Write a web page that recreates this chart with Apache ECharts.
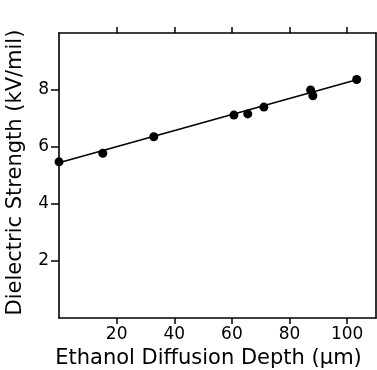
<!DOCTYPE html>
<html><head><meta charset="utf-8">
<script src="https://cdn.jsdelivr.net/npm/echarts@6/dist/echarts.min.js"></script>
<style>html,body{margin:0;padding:0;background:#fff}#c{width:377px;height:370px}</style>
</head><body><div id="c"></div>
<script>
const depth = [0, 15.2, 32.9, 60.7, 65.5, 71.1, 87.3, 88.1, 103.3];
const strength = [5.48, 5.78, 6.36, 7.12, 7.16, 7.40, 8.0, 7.8, 8.37];
const fitX = [0, 103.3];
const fitY = [5.45, 8.36];
const xTicks = [20, 40, 60, 80, 100];
const yTicks = [2, 4, 6, 8];

const font = 'DejaVu Sans';
const chart = echarts.init(document.getElementById('c'), null, {renderer: 'canvas'});
const axisLine = {show: true, onZero: false, lineStyle: {color: '#000', width: 1.6}};
chart.setOption({
  animation: false,
  backgroundColor: '#fff',
  grid: {left: 59, right: 1, top: 33, bottom: 52, containLabel: false, outerBoundsMode: 'none'},
  xAxis: [{
    type: 'value', min: 0, max: 110, interval: 10,
    position: 'bottom',
    axisLine: axisLine,
    axisTick: {show: true, inside: false, length: 6, customValues: xTicks, lineStyle: {color: '#000', width: 1.5}},
    axisLabel: {customValues: xTicks, color: '#000', fontFamily: font, fontSize: 17, margin: 8},
    splitLine: {show: false},
    name: 'Ethanol Diffusion Depth (μm)', nameLocation: 'middle', nameGap: 29,
    nameTextStyle: {color: '#000', fontFamily: font, fontSize: 21, padding: [0, 18, 0, 0]}
  }, {
    type: 'value', min: 0, max: 110, interval: 10,
    position: 'top',
    axisLine: axisLine,
    axisTick: {show: true, inside: false, length: 6, customValues: xTicks, lineStyle: {color: '#000', width: 1.5}},
    axisLabel: {show: false},
    splitLine: {show: false}
  }],
  yAxis: [{
    type: 'value', min: 0, max: 10, interval: 2,
    position: 'left',
    axisLine: axisLine,
    axisTick: {show: true, inside: false, length: 8, customValues: yTicks, lineStyle: {color: '#000', width: 1.5}},
    axisLabel: {customValues: yTicks, color: '#000', fontFamily: font, fontSize: 17, margin: 10},
    splitLine: {show: false},
    name: 'Dielectric Strength (kV/mil)', nameLocation: 'middle', nameGap: 33,
    nameTextStyle: {color: '#000', fontFamily: font, fontSize: 21, padding: [0, 0, 0, 6]}
  }, {
    type: 'value', min: 0, max: 10, interval: 2,
    position: 'right',
    axisLine: axisLine,
    axisTick: {show: false},
    axisLabel: {show: false},
    splitLine: {show: false}
  }],
  series: [{
    type: 'line',
    data: fitX.map((x, i) => [x, fitY[i]]),
    symbol: 'none',
    lineStyle: {color: '#000', width: 1.6},
    silent: true
  }, {
    type: 'scatter',
    data: depth.map((x, i) => [x, strength[i]]),
    symbol: 'circle', symbolSize: 9,
    itemStyle: {color: '#000', opacity: 1},
    clip: false
  }]
});
</script></body></html>
